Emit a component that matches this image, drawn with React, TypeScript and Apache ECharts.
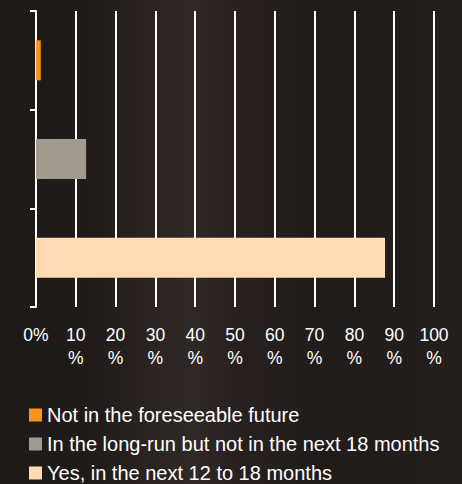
import React, { useEffect, useRef } from "react";
import * as echarts from "echarts";

const categories = ["Yes", "Long-run", "Not foreseeable"];
const seriesNames = [
  "Not in the foreseeable future",
  "In the long-run but not in the next 18 months",
  "Yes, in the next 12 to 18 months",
];
const notForeseeable = [null, null, 1.2];
const longRun = [null, 12.6, null];
const nextMonths = [87.7, null, null];
const colors = ["#f7941d", "#a39a8f", "#ffdab4"];
const xTicks = [0, 10, 20, 30, 40, 50, 60, 70, 80, 90, 100];

export default function App() {
  const ref = useRef<HTMLDivElement>(null);
  useEffect(() => {
    document.body.style.margin = "0";
    const chart = echarts.init(ref.current!, undefined, { renderer: "svg" });
    const values = [notForeseeable, longRun, nextMonths];
    chart.setOption({
      animation: false,
      backgroundColor: {
        type: "linear",
        x: 0,
        y: 0,
        x2: 1,
        y2: 0,
        colorStops: [
          { offset: 0, color: "#1d1916" },
          { offset: 0.2, color: "#211c19" },
          { offset: 0.33, color: "#2b2421" },
          { offset: 0.42, color: "#302826" },
          { offset: 0.52, color: "#27201e" },
          { offset: 0.7, color: "#211c1a" },
          { offset: 1, color: "#241f1d" },
        ],
      },
      textStyle: { fontFamily: "Liberation Sans, Arial, sans-serif" },
      grid: { left: 36, top: 11, right: 28, bottom: 177, containLabel: false },
      legend: {
        orient: "vertical",
        left: 29,
        top: 405,
        height: 90,
        padding: 0,
        icon: "rect",
        itemWidth: 13,
        itemHeight: 13,
        itemGap: 9,
        data: seriesNames,
        textStyle: { color: "#ffffff", fontSize: 20, lineHeight: 20 },
      },
      xAxis: {
        type: "value",
        min: 0,
        max: 100,
        interval: 10,
        axisLine: { show: false },
        axisTick: { show: false },
        splitLine: { show: true, lineStyle: { color: "#ffffff", width: 2 } },
        axisLabel: {
          color: "#ffffff",
          fontSize: 17.5,
          lineHeight: 23,
          margin: 16,
          customValues: xTicks,
          formatter: (v: number) => (v === 0 ? "0%" : v + "\n%"),
        },
      },
      yAxis: {
        type: "category",
        data: categories,
        axisLine: { show: true, lineStyle: { color: "#ffffff", width: 2 } },
        axisTick: { show: true, length: 6, lineStyle: { color: "#ffffff", width: 2 } },
        axisLabel: { show: false },
      },
      series: seriesNames.map((name, i) => ({
        name,
        type: "bar",
        stack: "all",
        barWidth: 40,
        data: values[i],
        itemStyle: { color: colors[i] },
      })),
    });
    return () => chart.dispose();
  }, []);
  return <div ref={ref} style={{ width: 462, height: 484 }} />;
}
